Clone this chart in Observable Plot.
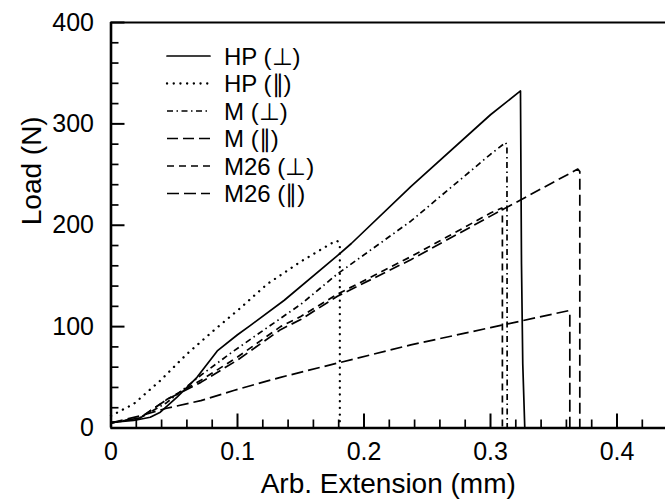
<!DOCTYPE html>
<html>
<head>
<meta charset="utf-8">
<script src="https://cdn.jsdelivr.net/npm/d3@7"></script>
<script src="https://cdn.jsdelivr.net/npm/@observablehq/plot@0.6"></script>
<style>
  html, body { margin: 0; padding: 0; background: white; }
  #chart { width: 665px; height: 499px; }
</style>
</head>
<body>
<div id="chart"></div>
<script>
// ---- Data ----
const seriesNames = ["HP (⊥)", "HP (∥)", "M (⊥)", "M (∥)", "M26 (⊥)", "M26 (∥)"];

const hpPerpX = [0, 0.018, 0.031, 0.039, 0.052, 0.068, 0.084, 0.100, 0.110, 0.137, 0.179, 0.190, 0.237, 0.300, 0.3237, 0.3245, 0.3255, 0.3271];
const hpPerpY = [5.5, 7.4, 10.6, 15.6, 30.3, 50, 76, 92, 101, 126, 170, 182, 238, 309, 332.5, 161.8, 63.3, 0];

const hpParX = [0, 0.018, 0.039, 0.060, 0.081, 0.102, 0.110, 0.1235, 0.1498, 0.176, 0.1788, 0.1809, 0.1809];
const hpParY = [12, 23.8, 46.8, 73, 96, 118, 127, 142, 164, 183.5, 184.7, 181.5, 0];

const mPerpX = [0, 0.023, 0.044, 0.071, 0.097, 0.150, 0.179, 0.237, 0.300, 0.3119, 0.3130, 0.3132];
const mPerpY = [5, 10, 25, 52, 76, 122, 152, 204, 270, 281.6, 279, 0];

const mParX = [0, 0.023, 0.044, 0.071, 0.100, 0.134, 0.150, 0.179, 0.237, 0.300, 0.369, 0.3706, 0.3706];
const mParY = [5, 10, 28, 45, 67, 97, 107, 130, 166, 209, 255.4, 253, 0];

const m26PerpX = [0, 0.023, 0.044, 0.071, 0.100, 0.134, 0.150, 0.179, 0.237, 0.300, 0.309, 0.3094, 0.3094];
const m26PerpY = [5, 10, 28, 47, 70, 100, 110, 132, 169, 212, 217, 215, 0];

const m26ParX = [0, 0.023, 0.044, 0.071, 0.097, 0.134, 0.179, 0.237, 0.300, 0.3619, 0.3627, 0.3627];
const m26ParY = [5, 12, 19.5, 27, 37, 50, 64, 82, 99, 115.8, 114, 0];

const seriesX = [hpPerpX, hpParX, mPerpX, mParX, m26PerpX, m26ParX];
const seriesY = [hpPerpY, hpParY, mPerpY, mParY, m26PerpY, m26ParY];

const xMajor = [0, 0.1, 0.2, 0.3, 0.4];
const xMinor = [0.02, 0.04, 0.06, 0.08, 0.12, 0.14, 0.16, 0.18, 0.22, 0.24, 0.26, 0.28, 0.32, 0.34, 0.36, 0.38, 0.42];
const yMajor = [0, 100, 200, 300, 400];
const yMinor = [20, 40, 60, 80, 120, 140, 160, 180, 220, 240, 260, 280, 320, 340, 360, 380];

// line styles
const dashes = [null, "0.1,6.6", "6,3.5,1.5,3.5", "11,5", "7,5", "12,5"];
const caps = ["round", "round", "butt", "butt", "butt", "butt"];
const widths = [1.7, 2.3, 1.7, 1.7, 1.7, 1.7];

// ---- Build table ----
const rows = [];
seriesNames.forEach((name, i) => {
  seriesX[i].forEach((x, j) => rows.push({series: name, x, y: seriesY[i][j]}));
});

const W = 665, H = 499, mL = 110.5, mR = 0, mT = 22, mB = 71.5;
const font = "'Liberation Sans', Arial, Helvetica, sans-serif";

const lineMarks = seriesNames.map((name, i) =>
  Plot.line(rows.filter(d => d.series === name), {
    x: "x", y: "y", stroke: "black", strokeWidth: widths[i],
    strokeDasharray: dashes[i] || undefined,
    strokeLinecap: caps[i], strokeLinejoin: "round"
  })
);

const noLabel = () => "";

const chart = Plot.plot({
  width: W, height: H,
  marginLeft: mL, marginRight: mR, marginTop: mT, marginBottom: mB,
  x: {domain: [0, (W - mL) / 1265]},
  y: {domain: [0, 400]},
  style: {fontFamily: font, background: "white"},
  marks: [
    ...lineMarks,
    // inward ticks (axis ticks shifted back inside the frame)
    Plot.axisX({ticks: xMajor, tickSize: 14, dy: -14, tickFormat: noLabel, stroke: "black", strokeWidth: 2, label: null}),
    Plot.axisX({ticks: xMinor, tickSize: 8, dy: -8, tickFormat: noLabel, stroke: "black", strokeWidth: 1.7, label: null}),
    Plot.axisY({ticks: yMajor, tickSize: 14, dx: 14, tickFormat: noLabel, stroke: "black", strokeWidth: 2, label: null}),
    Plot.axisY({ticks: yMinor, tickSize: 8, dx: 8, tickFormat: noLabel, stroke: "black", strokeWidth: 1.7, label: null}),
    // frame (left, bottom, top)
    Plot.ruleX([0], {stroke: "black", strokeWidth: 2.6}),
    Plot.ruleY([0], {stroke: "black", strokeWidth: 2.6}),
    Plot.ruleY([400], {stroke: "black", strokeWidth: 2.2}),
    // tick labels
    Plot.axisX({ticks: xMajor, tickSize: 0, tickPadding: 14, fontSize: 25, fill: "black", tickFormat: d => String(d), label: null}),
    Plot.axisY({ticks: yMajor, tickSize: 0, tickPadding: 17, fontSize: 25, fill: "black", tickFormat: d => String(d), label: null}),
    // axis titles
    Plot.text(["Arb. Extension (mm)"], {text: d => d, frameAnchor: "bottom", dy: 65, lineAnchor: "bottom", fontSize: 28, fill: "black"}),
    Plot.text(["Load (N)"], {text: d => d, frameAnchor: "left", rotate: -90, dx: -70.5, lineAnchor: "bottom", fontSize: 28, fill: "black"})
  ]
});

document.getElementById("chart").appendChild(chart);

// ---- Legend (inside the plot, top-left) ----
const svg = d3.select(chart);
const leg = svg.append("g")
  .attr("font-family", font)
  .attr("font-size", 24)
  .attr("text-anchor", "start");
const rowY = [56, 83.5, 111, 138.5, 166, 193.5];
seriesNames.forEach((name, i) => {
  const y = rowY[i];
  leg.append("line")
    .attr("x1", 167).attr("x2", 210).attr("y1", y).attr("y2", y)
    .attr("stroke", "black").attr("stroke-width", widths[i])
    .attr("stroke-linecap", caps[i])
    .attr("stroke-dasharray", dashes[i]);
  leg.append("text")
    .attr("x", 224).attr("y", y + 8.6)
    .attr("text-anchor", "start")
    .attr("fill", "black")
    .text(name);
});
</script>
</body>
</html>
